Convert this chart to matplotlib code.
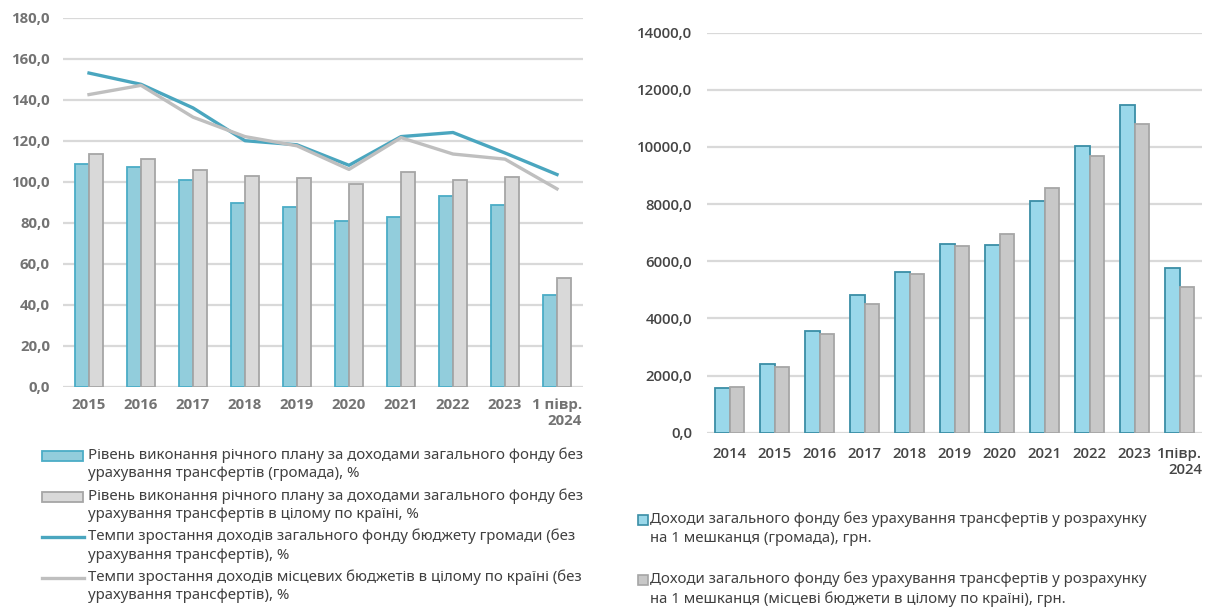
import matplotlib.pyplot as plt
import numpy as np
from matplotlib.lines import Line2D
from matplotlib.patches import Rectangle

plt.rcParams["font.family"] = ["Noto Sans", "DejaVu Sans"]

# left chart: plan execution and growth rates, %
years_left = ["2015", "2016", "2017", "2018", "2019", "2020", "2021", "2022", "2023", "1 півр.\n2024"]
plan_hromada = [108.5, 107, 101, 89.5, 87.5, 81, 83, 93, 88.5, 44.8]
plan_country = [113.5, 111, 105.5, 103, 102, 99, 104.5, 101, 102.5, 53]
growth_hromada = [153, 147.5, 136, 120, 118, 108, 122, 124, 114, 103.5]
growth_country = [142.5, 147, 131.5, 122, 117.5, 106, 121.5, 113.5, 111, 96.5]
yticks_left = [0, 20, 40, 60, 80, 100, 120, 140, 160, 180]

# right chart: income per resident, UAH
years_right = ["2014", "2015", "2016", "2017", "2018", "2019", "2020", "2021", "2022", "2023", "1півр.\n2024"]
per_capita_hromada = [1580, 2420, 3550, 4810, 5640, 6590, 6560, 8110, 10040, 11460, 5780]
per_capita_country = [1610, 2300, 3440, 4520, 5550, 6550, 6960, 8560, 9690, 10790, 5100]
yticks_right = [0, 2000, 4000, 6000, 8000, 10000, 12000, 14000]

legend_left = [
    "Рівень виконання річного плану за доходами загального фонду без\nурахування трансфертів (громада), %",
    "Рівень виконання річного плану за доходами загального фонду без\nурахування трансфертів в цілому по країні, %",
    "Темпи зростання доходів загального фонду бюджету громади (без\nурахування трансфертів), %",
    "Темпи зростання доходів місцевих бюджетів в цілому по країні (без\nурахування трансфертів), %",
]
legend_right = [
    "Доходи загального фонду без урахування трансфертів у розрахунку\nна 1 мешканця (громада), грн.",
    "Доходи загального фонду без урахування трансфертів у розрахунку\nна 1 мешканця (місцеві бюджети в цілому по країні), грн.",
]

W, H = 1209, 612
grid_c = "#d9d9d9"
tick_font = ["Open Sans", "DejaVu Sans"]


def fmt(v):
    return f"{v:.1f}".replace(".", ",")


def px_axes(fig, x0, y0, x1, y1):
    return fig.add_axes([x0 / W, 1 - y1 / H, (x1 - x0) / W, (y1 - y0) / H])


def style(ax, cats, yticks, color, weight, size, ypad, xpad):
    for s in ax.spines.values():
        s.set_visible(False)
    ax.set_xlim(-0.5, len(cats) - 0.5)
    ax.set_ylim(yticks[0], yticks[-1])
    ax.yaxis.grid(True, color=grid_c, linewidth=1.6)
    ax.set_axisbelow(True)
    ax.tick_params(length=0)
    ax.tick_params(axis="y", pad=ypad)
    ax.tick_params(axis="x", pad=xpad)
    ax.set_xticks(np.arange(len(cats)))
    ax.set_xticklabels(cats, multialignment="right")
    ax.set_yticks(yticks)
    ax.set_yticklabels([fmt(v) for v in yticks])
    for t in ax.get_xticklabels() + ax.get_yticklabels():
        t.set_fontfamily(tick_font)
        t.set_fontsize(size)
        t.set_fontweight(weight)
        t.set_color(color)


fig = plt.figure(figsize=(W / 100, H / 100), dpi=100)

# ---- left
ax1 = px_axes(fig, 63, 17.7, 583, 386.7)
x = np.arange(len(years_left))
bw = 0.27
ax1.bar(x - bw / 2, plan_hromada, bw, color="#92cddc", edgecolor="#4bacc6", linewidth=1.3)
ax1.bar(x + bw / 2, plan_country, bw, color="#d9d9d9", edgecolor="#a6a6a6", linewidth=1.3)
ax1.plot(x, growth_hromada, color="#4aa6bf", linewidth=2.4)
ax1.plot(x, growth_country, color="#bfbfbf", linewidth=2.4)
style(ax1, years_left, yticks_left, "#737373", "bold", 10.8, 9.4, 8.0)

# ---- right
ax2 = px_axes(fig, 707, 32.7, 1202, 432.7)
x2 = np.arange(len(years_right))
bw2 = 0.32
ax2.bar(x2 - bw2 / 2, per_capita_hromada, bw2, color="#9ad8ea", edgecolor="#3a8ea6", linewidth=1.3)
ax2.bar(x2 + bw2 / 2, per_capita_country, bw2, color="#c8c8c8", edgecolor="#a6a6a6", linewidth=1.3)
style(ax2, years_right, yticks_right, "#454545", "semibold", 10.8, 10.8, 10.0)

# ---- legends, drawn in pixel positions
txt_c = "#404040"
fs = 10.8
handles_left = [
    ("patch", "#92cddc", "#4bacc6"),
    ("patch", "#d9d9d9", "#a6a6a6"),
    ("line", "#4aa6bf", None),
    ("line", "#bfbfbf", None),
]
for i, ((kind, fc, ec), lab) in enumerate(zip(handles_left, legend_left)):
    yc = 456 + i * 40.7
    if kind == "patch":
        fig.patches.append(Rectangle((42 / W, 1 - (yc + 5) / H), 41 / W, 10 / H,
                                     facecolor=fc, edgecolor=ec, linewidth=1.3,
                                     transform=fig.transFigure))
    else:
        fig.lines.append(Line2D([42 / W, 84 / W], [1 - yc / H] * 2, color=fc,
                                linewidth=2.4, transform=fig.transFigure))
    fig.text(88 / W, 1 - (yc - 8.5) / H, lab, ha="left", va="top", fontsize=fs,
             color=txt_c, linespacing=1.3)

handles_right = [("#9ad8ea", "#3a8ea6"), ("#c8c8c8", "#a6a6a6")]
for i, ((fc, ec), lab) in enumerate(zip(handles_right, legend_right)):
    yc = 520 + i * 60
    fig.patches.append(Rectangle((638 / W, 1 - (yc + 5) / H), 10 / W, 10 / H,
                                 facecolor=fc, edgecolor=ec, linewidth=1.2,
                                 transform=fig.transFigure))
    fig.text(650 / W, 1 - (yc - 8.5) / H, lab, ha="left", va="top", fontsize=fs,
             color=txt_c, linespacing=1.35)

fig.savefig("out.png", dpi=100, facecolor="white")
